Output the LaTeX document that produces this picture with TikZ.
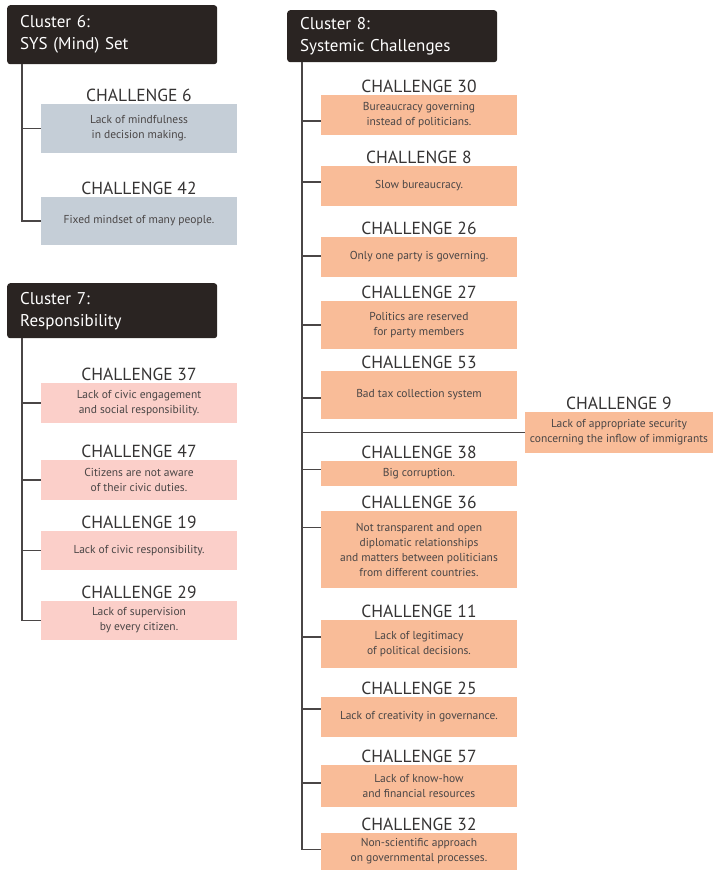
\documentclass[tikz,border=0pt]{standalone}
\usepackage{fontspec}
\setmainfont{PT Sans}
\usetikzlibrary{positioning}
\usetikzlibrary{calc}
\definecolor{hdfill}{HTML}{2A2422}
\definecolor{greyfill}{HTML}{C5CED7}
\definecolor{pinkfill}{HTML}{FBCFC9}
\definecolor{orangefill}{HTML}{F9BC98}
\definecolor{ttlgrey}{HTML}{353333}
\definecolor{txtgrey}{HTML}{4A4646}
\definecolor{linegrey}{HTML}{4A4646}

\begin{document}
\begin{tikzpicture}[x=1pt,y=-1pt]
\tikzset{
  header/.style={fill=hdfill, rounded corners=3pt, anchor=north west, text=white,
    align=left, text width=184, inner xsep=13, minimum width=210,
    font=\fontsize{17}{22}\selectfont},
  chbox/.style={inner sep=0, align=center, text=txtgrey,
    font=\fontsize{11.5}{15}\selectfont},
  greybox/.style={chbox, fill=greyfill, minimum width=196},
  pinkbox/.style={chbox, fill=pinkfill, minimum width=196},
  orangebox/.style={chbox, fill=orangefill, minimum width=196},
  ttl/.style={inner sep=0, text=ttlgrey, font=\fontsize{17.5}{19}\selectfont},
  trunk/.style={draw=linegrey, line width=1.6pt},
}
\useasboundingbox (0,0) rectangle (713,871);
%
% Cluster 6
\node [header, minimum height=59] (hd6) at (7,5) {Cluster 6:\\SYS (Mind) Set};
\coordinate (tr6) at ($(hd6.south west)+(15,0)$);

\node [greybox, minimum height=49] (c6) at (139,128.5) {Lack of mindfulness\\in decision making.};
\node [ttl, above=1.5pt of c6] (l6) {CHALLENGE 6};
\node [greybox, minimum height=48] (c42) at (139,221) {Fixed mindset of many people.};
\node [ttl, above=1.5pt of c42] (l42) {CHALLENGE 42};

\draw [trunk] (tr6) |- (c42.west);
\draw [trunk] (tr6 |- c6.west) -- (c6.west);

% Cluster 7
\node [header, minimum height=55] (hd7) at (7,283) {Cluster 7:\\Responsibility};
\coordinate (tr7) at ($(hd7.south west)+(15,0)$);

\node [pinkbox, minimum height=40] (c37) at (139,403) {Lack of civic engagement\\and social responsibility.};
\node [ttl, above=1.5pt of c37] (l37) {CHALLENGE 37};
\node [pinkbox, minimum height=40] (c47) at (139,480) {Citizens are not aware\\of their civic duties.};
\node [ttl, above=1.5pt of c47] (l47) {CHALLENGE 47};
\node [pinkbox, minimum height=39] (c19) at (139,550.5) {Lack of civic responsibility.};
\node [ttl, above=1.5pt of c19] (l19) {CHALLENGE 19};
\node [pinkbox, minimum height=39] (c29) at (139,620.5) {Lack of supervision\\by every citizen.};
\node [ttl, above=1.5pt of c29] (l29) {CHALLENGE 29};

\draw [trunk] (tr7) |- (c29.west);
\foreach \b in {c37, c47, c19}
  \draw [trunk] (tr7 |- \b.west) -- (\b.west);

% Cluster 8
\node [header, minimum height=52] (hd8) at (287,10) {Cluster 8:\\Systemic Challenges};
\coordinate (tr8) at ($(hd8.south west)+(15,0)$);

\node [orangebox, minimum height=40] (c30) at (419,115) {Bureaucracy governing\\instead of politicians.};
\node [ttl, above=1.5pt of c30] (l30) {CHALLENGE 30};
\node [orangebox, minimum height=40] (c8) at (419,186) {Slow bureaucracy.};
\node [ttl, above=1.5pt of c8] (l8) {CHALLENGE 8};
\node [orangebox, minimum height=40] (c26) at (419,257) {Only one party is governing.};
\node [ttl, above=1.5pt of c26] (l26) {CHALLENGE 26};
\node [orangebox, minimum height=48] (c27) at (419,325) {Politics are reserved\\for party members};
\node [ttl, above=1.5pt of c27] (l27) {CHALLENGE 27};
\node [orangebox, minimum height=48] (c53) at (419,395) {Bad tax collection system};
\node [ttl, above=1.5pt of c53] (l53) {CHALLENGE 53};
\node [orangebox, minimum height=25] (c38) at (419,473.5) {Big corruption.};
\node [ttl, above=1.5pt of c38] (l38) {CHALLENGE 38};
\node [orangebox, minimum height=77] (c36) at (419,549.5) {Not transparent and open\\diplomatic relationships\\and matters between politicians\\from different countries.};
\node [ttl, above=1.5pt of c36] (l36) {CHALLENGE 36};
\node [orangebox, minimum height=48] (c11) at (419,644) {Lack of legitimacy\\of political decisions.};
\node [ttl, above=1.5pt of c11] (l11) {CHALLENGE 11};
\node [orangebox, minimum height=40] (c25) at (419,717) {Lack of creativity in governance.};
\node [ttl, above=1.5pt of c25] (l25) {CHALLENGE 25};
\node [orangebox, minimum height=42] (c57) at (419,786) {Lack of know-how\\and financial resources};
\node [ttl, above=1.5pt of c57] (l57) {CHALLENGE 57};
\node [orangebox, minimum height=37] (c32) at (419,851.5) {Non-scientific approach\\on governmental processes.};
\node [ttl, above=1.5pt of c32] (l32) {CHALLENGE 32};

\node [orangebox, minimum width=188, minimum height=41] (c9) at (619,432.5) {Lack of appropriate security\\concerning the inflow of immigrants};
\node [ttl, above=1.5pt of c9] (l9) {CHALLENGE 9};

\draw [trunk] (tr8) -- ($(tr8 |- c32.west)+(0,-2)$);
\foreach \b/\dy in {c30/6, c8/-4, c26/-1, c27/0, c53/3, c38/-4, c36/-22, c11/-7, c25/-8, c57/-3, c32/-2}
  \draw [trunk] ($(tr8 |- \b.west)+(0,\dy)$) -- ($(\b.west)+(0,\dy)$);
\draw [trunk] (tr8 |- c9.west) -- (c9.west);

\end{tikzpicture}
\end{document}
